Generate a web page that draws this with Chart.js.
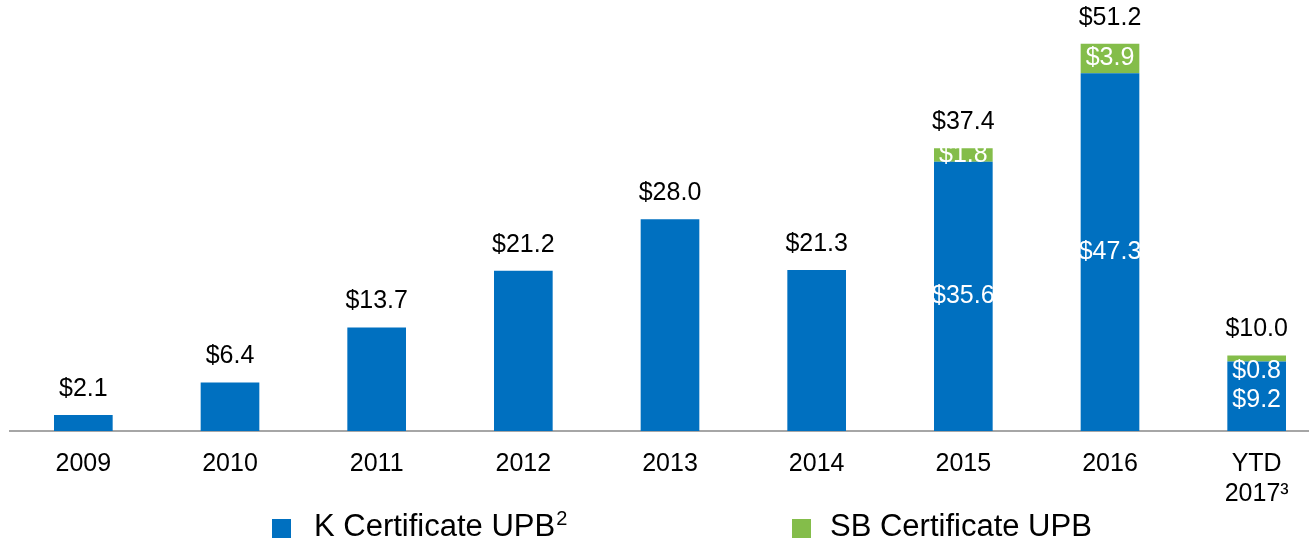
<!DOCTYPE html>
<html>
<head>
<meta charset="utf-8">
<script src="https://cdn.jsdelivr.net/npm/chart.js@4/dist/chart.umd.min.js"></script>
<style>
  html, body { margin: 0; padding: 0; background: #fff; overflow: hidden; }
  #wrap { position: absolute; left: 0; top: 0; width: 1330px; height: 542px; }
</style>
</head>
<body>
<div id="wrap"><canvas id="c" width="1330" height="542"></canvas></div>
<script>
// values ($ billions)
const years = ["2009", "2010", "2011", "2012", "2013", "2014", "2015", "2016", ["YTD", "2017\u00B3"]];
const kUpb = [2.1, 6.4, 13.7, 21.2, 28.0, 21.3, 35.6, 47.3, 9.2];
const sbUpb = [0, 0, 0, 0, 0, 0, 1.8, 3.9, 0.8];
const totals = [2.1, 6.4, 13.7, 21.2, 28.0, 21.3, 37.4, 51.2, 10.0];

const BLUE = "#0070C0";
const GREEN = "#84BD4A";
const FONT = "'Liberation Sans', Arial, sans-serif";

// labels on and above the bars
const barLabels = {
  id: "barLabels",
  afterDatasetsDraw(chart) {
    const ctx = chart.ctx;
    const y = chart.scales.y;
    ctx.save();
    ctx.textAlign = "center";
    ctx.textBaseline = "middle";
    ctx.font = "25px " + FONT;
    const kMeta = chart.getDatasetMeta(0);
    totals.forEach(function (t, i) {
      const x = kMeta.data[i].x;
      ctx.fillStyle = "#000";
      ctx.fillText("$" + t.toFixed(1), x, y.getPixelForValue(t) - 26);
      if (sbUpb[i] > 0) {
        ctx.fillStyle = "#fff";
        let ky = y.getPixelForValue(kUpb[i] / 2);
        let sy = y.getPixelForValue(kUpb[i] + sbUpb[i] / 2);
        if (sbUpb[i] < 1) {
          // green piece too thin: both labels sit inside the blue part
          sy = y.getPixelForValue(kUpb[i]) + 10;
          ky = sy + 29;
        }
        ctx.fillText("$" + kUpb[i].toFixed(1), x, ky);
        ctx.fillText("$" + sbUpb[i].toFixed(1), x, sy);
      }
    });
    ctx.restore();
  }
};

// legend drawn by hand for the superscript
const legendDraw = {
  id: "legendDraw",
  afterDraw(chart) {
    const ctx = chart.ctx;
    ctx.save();
    ctx.textBaseline = "middle";
    ctx.fillStyle = BLUE;
    ctx.fillRect(272, 519, 19, 19);
    ctx.fillStyle = GREEN;
    ctx.fillRect(792, 519, 19, 19);
    ctx.fillStyle = "#000";
    ctx.font = "31px " + FONT;
    ctx.fillText("K Certificate UPB", 314, 527);
    const w = ctx.measureText("K Certificate UPB").width;
    ctx.font = "20px " + FONT;
    ctx.fillText("2", 314 + w + 1, 519);
    ctx.font = "31px " + FONT;
    ctx.fillText("SB Certificate UPB", 830, 527);
    ctx.restore();
  }
};

new Chart(document.getElementById("c"), {
  type: "bar",
  data: {
    labels: years,
    datasets: [
      { label: "K Certificate UPB", data: kUpb, backgroundColor: BLUE, barPercentage: 0.4, categoryPercentage: 1 },
      { label: "SB Certificate UPB", data: sbUpb, backgroundColor: GREEN, barPercentage: 0.4, categoryPercentage: 1 }
    ]
  },
  options: {
    responsive: false,
    animation: false,
    layout: { padding: { left: 10, right: 0, top: 0, bottom: 0 } },
    plugins: { legend: { display: false }, tooltip: { enabled: false } },
    scales: {
      x: {
        stacked: true,
        grid: { display: false, drawTicks: false },
        border: { display: true, color: "#A6A6A6", width: 2 },
        ticks: { color: "#000", font: { family: FONT, size: 25 }, padding: 18, maxRotation: 0 },
        afterFit: function (s) { s.height = 111; }
      },
      y: {
        stacked: true,
        display: false,
        min: 0,
        max: 57
      }
    }
  },
  plugins: [barLabels, legendDraw]
});
</script>
</body>
</html>
